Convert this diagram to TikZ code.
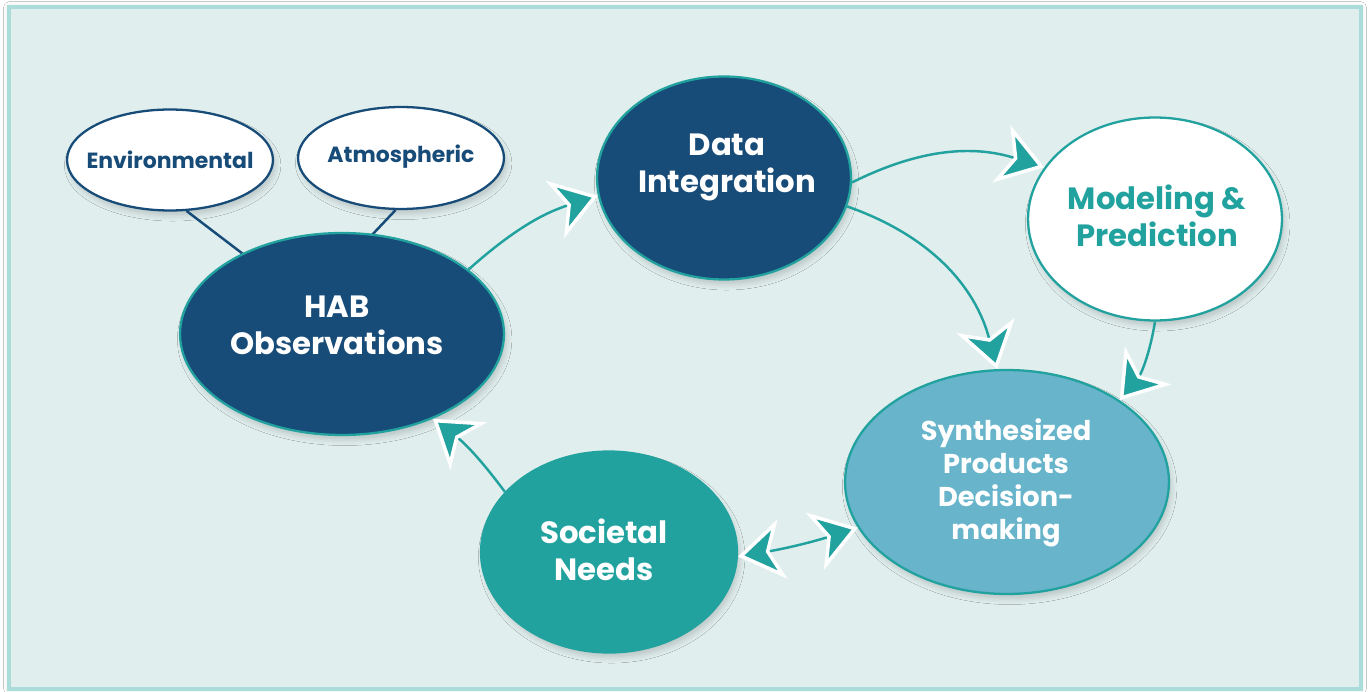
\documentclass[tikz,border=0pt]{standalone}
\usepackage{fontspec}
\setmainfont{Poppins}
\usetikzlibrary{arrows.meta,shadows.blur,shapes.geometric}
\definecolor{navy}{HTML}{174B78}
\definecolor{teal}{HTML}{21A29F}
\definecolor{sky}{HTML}{67B4CB}
\definecolor{panel}{HTML}{E0EEED}
\definecolor{panelline}{HTML}{AADCDA}
\tikzset{
  bubble/.style={ellipse, inner sep=0pt, line width=1.3pt,
    blur shadow={shadow xshift=1.5pt, shadow yshift=-3pt, shadow blur radius=3pt, shadow opacity=16}},
  bigtxt/.style={font=\fontsize{17.5}{21}\selectfont\bfseries, align=center, text=white},
  midtxt/.style={font=\fontsize{15.5}{18.7}\selectfont\bfseries, align=center, text=white},
  smalltxt/.style={font=\fontsize{12.5}{15}\selectfont\bfseries, text=navy},
  flow/.style={draw=teal, line width=1.4pt,
    >={Stealth[length=0.9cm, width=1.2cm, inset=0.26cm, fill=teal, color=white, line width=2pt]}},
  tie/.style={draw=navy, line width=1.4pt}
}
\begin{document}
\begin{tikzpicture}[x=0.02cm, y=-0.02cm]
\useasboundingbox (0,0) rectangle (1368,692);
\fill[white] (0,0) rectangle (1368,692);
% panel
\draw[panelline, fill=panel, line width=1.8pt,
  blur shadow={shadow xshift=0pt, shadow yshift=0pt, shadow blur radius=3pt, shadow opacity=15}]
  (9,7) rectangle (1361,689);

% ellipses
\node[bubble, fill=white, draw=navy, minimum width=4.12cm, minimum height=2.02cm] (env) at (170,160) {};
\node[bubble, fill=white, draw=navy, minimum width=4.12cm, minimum height=2.04cm] (atm) at (401,158) {};
\draw[tie] (env.-72) -- (243,254) coordinate (envfoot);
\draw[tie] (atm.-96) -- (371,236) coordinate (atmfoot);

\node[bubble, fill=navy, draw=teal, minimum width=6.48cm, minimum height=4.04cm] (hab) at (342,334) {};
\node[bubble, fill=navy, draw=teal, minimum width=5.08cm, minimum height=4.06cm] (data) at (724,178) {};
\node[bubble, fill=white, draw=teal, minimum width=5.08cm, minimum height=4.06cm] (model) at (1155,219) {};
\node[bubble, fill=sky, draw=teal, minimum width=6.48cm, minimum height=4.48cm] (synth) at (1007,482) {};
\node[bubble, fill=teal, draw=teal, minimum width=5.12cm, minimum height=4.02cm] (soc) at (609,552) {};

% labels
\node[smalltxt] (envt) at (170,160) {Environmental};
\node[smalltxt] (atmt) at (401,157) {Atmospheric};
\node[bigtxt] (habt) at (337,325) {HAB\\Observations};
\node[bigtxt] (datat) at (727,167) {Data\\Integration};
\node[bigtxt, text=teal] (modelt) at (1157,216) {Modeling \&\\Prediction};
\node[midtxt] (syntht) at (1006,483) {Synthesized\\Products\\Decision-\\making};
\node[bigtxt] (soct) at (604,550) {Societal\\Needs};

% flows
\draw[flow, ->] (hab.27) to[bend left=12] (data.188);
\draw[flow, ->] (data.-2) to[bend left=22] (model.155);
\draw[flow, ->] (data.-13) to[bend left=28] (synth.95);
\draw[flow, ->] (model.south) to[bend left=15] (synth.36);
\draw[flow, <->] (soc.-2) to[bend right=4] (synth.197);
\draw[flow, ->] (soc.150) to[bend right=8] (hab.-43);
\end{tikzpicture}
\end{document}
